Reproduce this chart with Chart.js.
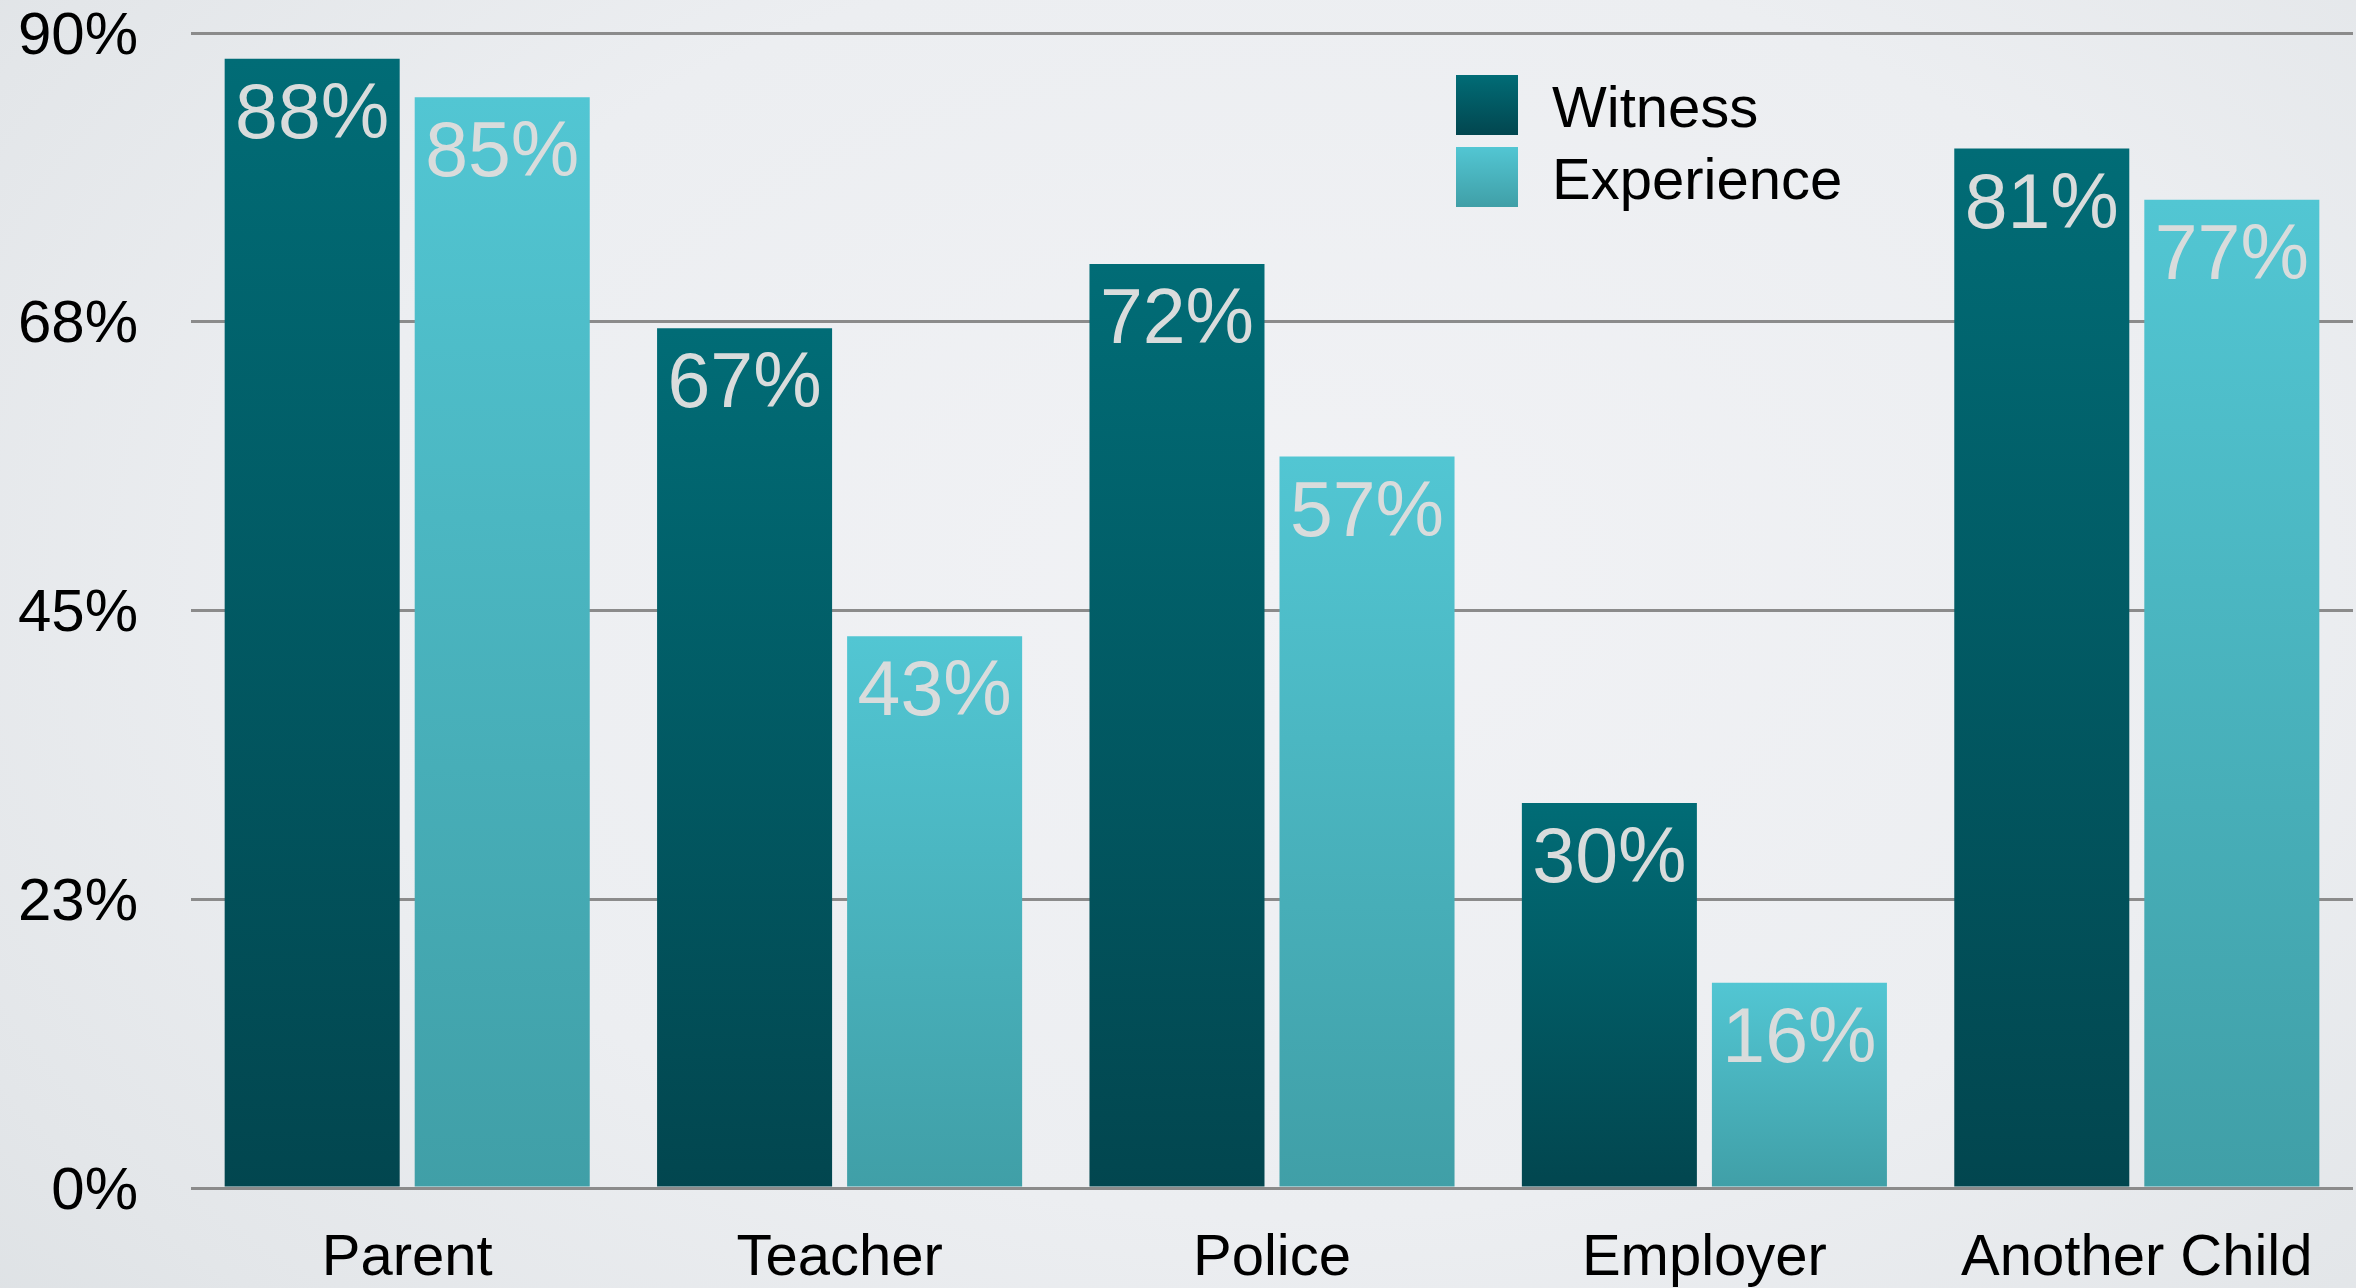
<!DOCTYPE html>
<html>
<head>
<meta charset="utf-8">
<script src="https://cdn.jsdelivr.net/npm/chart.js@4/dist/chart.umd.min.js"></script>
<style>
  html, body { margin: 0; padding: 0; }
  body {
    width: 2356px; height: 1288px; overflow: hidden;
    background: radial-gradient(ellipse 75% 90% at 55% 45%, #f1f2f5 0%, #eceef1 55%, #e3e6e9 85%, #dde1e4 100%);
  }
  canvas { display: block; }
</style>
</head>
<body>
<canvas id="c" width="2356" height="1288"></canvas>
<script>
const categories = ['Parent', 'Teacher', 'Police', 'Employer', 'Another Child'];
const witness = [88, 67, 72, 30, 81];
const experience = [85, 43, 57, 16, 77];
const seriesNames = ['Witness', 'Experience'];
const tickValues = [0, 22.5, 45, 67.5, 90];
const tickLabels = ['0%', '23%', '45%', '68%', '90%'];

const FONT = "'Liberation Sans', Arial, Helvetica, sans-serif";
const COLORS = [
  { top: '#016c76', bottom: '#02464f' },
  { top: '#52c6d3', bottom: '#409fa7' }
];

function barGradient(c) {
  return (ctx) => {
    const chart = ctx.chart;
    if (!chart.chartArea || ctx.type !== 'data') return c.top;
    const y = chart.scales.y;
    const yTop = y.getPixelForValue(ctx.raw);
    const yBase = y.getPixelForValue(0);
    const g = chart.ctx.createLinearGradient(0, yTop, 0, yBase);
    g.addColorStop(0, c.top);
    g.addColorStop(1, c.bottom);
    return g;
  };
}

const valueLabels = {
  id: 'valueLabels',
  afterDatasetsDraw(chart) {
    const ctx = chart.ctx;
    ctx.save();
    ctx.font = "77px " + FONT;
    ctx.fillStyle = '#d9dcdc';
    ctx.textAlign = 'center';
    ctx.textBaseline = 'middle';
    chart.data.datasets.forEach((ds, di) => {
      const meta = chart.getDatasetMeta(di);
      meta.data.forEach((bar, i) => {
        ctx.fillText(ds.data[i] + '%', bar.x, bar.y + 58);
      });
    });
    ctx.restore();
  }
};

const boxLegend = {
  id: 'boxLegend',
  afterDraw(chart) {
    const ctx = chart.ctx;
    const x0 = 1456, y0 = 75, bw = 62, bh = 60, step = 72, textX = 1552;
    ctx.save();
    chart.data.datasets.forEach((ds, i) => {
      const y = y0 + i * step;
      const g = ctx.createLinearGradient(0, y, 0, y + bh);
      g.addColorStop(0, COLORS[i].top);
      g.addColorStop(1, COLORS[i].bottom);
      ctx.fillStyle = g;
      ctx.fillRect(x0, y, bw, bh);
      ctx.fillStyle = '#000';
      ctx.font = "58px " + FONT;
      ctx.textAlign = 'left';
      ctx.textBaseline = 'middle';
      ctx.fillText(ds.label, textX, y + bh / 2 + 6);
    });
    ctx.restore();
  }
};

new Chart(document.getElementById('c'), {
  type: 'bar',
  data: {
    labels: categories,
    datasets: [
      { label: seriesNames[0], data: witness, backgroundColor: barGradient(COLORS[0]), borderWidth: 0 },
      { label: seriesNames[1], data: experience, backgroundColor: barGradient(COLORS[1]), borderWidth: 0 }
    ]
  },
  options: {
    responsive: false,
    animation: false,
    devicePixelRatio: 1,
    categoryPercentage: 0.879,
    barPercentage: 0.921,
    layout: { padding: { top: 33, right: 3, left: 0, bottom: 0 } },
    plugins: { legend: { display: false }, tooltip: { enabled: false } },
    scales: {
      x: {
        grid: { display: false },
        border: { display: false },
        ticks: { color: '#000', font: { family: FONT, size: 58 }, padding: 28, maxRotation: 0, autoSkip: false },
        afterFit(scale) { scale.height = 100; }
      },
      y: {
        min: 0, max: 90,
        afterBuildTicks(scale) { scale.ticks = tickValues.map(v => ({ value: v })); },
        grid: { color: '#8b8b8b', lineWidth: 3, drawTicks: true, tickLength: 53, tickColor: 'rgba(0,0,0,0)' },
        border: { display: false },
        ticks: {
          color: '#000', font: { family: FONT, size: 60, lineHeight: 1 }, padding: 0, labelOffset: 4,
          callback: (v, i) => tickLabels[i]
        },
        afterFit(scale) { scale.width = 191; }
      }
    }
  },
  plugins: [valueLabels, boxLegend]
});
</script>
</body>
</html>
